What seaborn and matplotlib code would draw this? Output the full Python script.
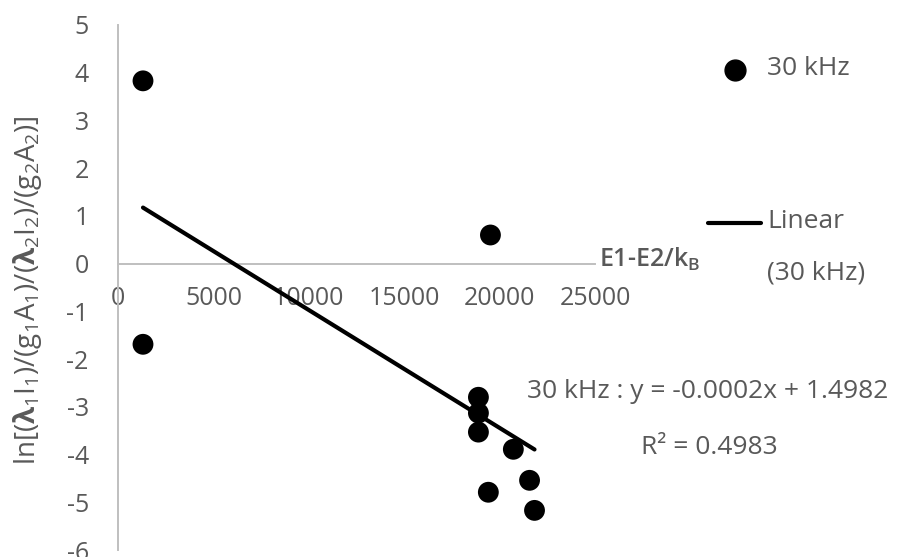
import numpy as np
import pandas as pd
import matplotlib
matplotlib.use("Agg")
import matplotlib.pyplot as plt
from matplotlib.lines import Line2D
import seaborn as sns

# Boltzmann-plot data for the 30 kHz discharge
energy = [1310, 1310, 19520, 18890, 18890, 18890, 20720, 21570, 19410, 21830]
log_ratio = [3.83, -1.69, 0.60, -2.80, -3.13, -3.53, -3.89, -4.54, -4.79, -5.17]
x_ticks = [0, 5000, 10000, 15000, 20000, 25000]
y_ticks = list(range(-6, 6))
series_name = "30 kHz"

# linear trendline parameters
fit_slope = -0.000247
fit_intercept = 1.4982
fit_r2 = 0.4983

TEXT = "#595959"
AXIS = "#bfbfbf"
FS_TICK = 18
FS_TEXT = 19

sns.set_theme(style="white")
plt.rcParams["font.family"] = ["Open Sans", "DejaVu Sans"]
plt.rcParams["mathtext.fontset"] = "custom"
plt.rcParams["mathtext.rm"] = "Open Sans"
plt.rcParams["mathtext.it"] = "Open Sans:italic"
plt.rcParams["mathtext.bf"] = "Open Sans:bold"
plt.rcParams["mathtext.sf"] = "Open Sans"

W, H = 908, 557
fig = plt.figure(figsize=(W / 100, H / 100), dpi=100)
ax = fig.add_axes([118 / W, 7 / H, 477 / W, 525 / H])

df = pd.DataFrame({"energy": energy, "log_ratio": log_ratio})
sns.scatterplot(data=df, x="energy", y="log_ratio", color="black", s=225,
                edgecolor="none", linewidth=0, ax=ax, clip_on=False,
                legend=False, zorder=3)

fx = np.array([min(energy), max(energy)], dtype=float)
fy = fit_intercept + fit_slope * fx
sns.lineplot(x=fx, y=fy, color="black", linewidth=3, ax=ax,
             solid_capstyle="round", zorder=4)

ax.set_xlim(0, 25000)
ax.set_ylim(-6, 5)
ax.set_xticks(x_ticks)
ax.set_yticks(y_ticks)
ax.set_xticklabels([str(t) for t in x_ticks])
ax.set_yticklabels([str(t) for t in y_ticks])

for side in ("top", "right"):
    ax.spines[side].set_visible(False)
ax.spines["left"].set_color(AXIS)
ax.spines["left"].set_linewidth(1.4)
ax.spines["bottom"].set_color(AXIS)
ax.spines["bottom"].set_linewidth(1.4)
ax.spines["bottom"].set_position(("data", 0))
ax.tick_params(axis="both", length=0, labelsize=FS_TICK, labelcolor=TEXT)
ax.tick_params(axis="x", pad=16)
ax.tick_params(axis="y", pad=21)
ax.set_xlabel("")

ax.set_ylabel(r"ln[($\mathbf{λ}_1$I$_1$)/(g$_1$A$_1$)/($\mathbf{λ}_2$I$_2$)/(g$_2$A$_2$)]",
              fontsize=20, color=TEXT)
ax.yaxis.set_label_coords(-0.155, 0.495)

# axis title at the right end of the horizontal axis
fig.text(599 / W, 1 - 259 / H, r"E1-E2/k$_\mathregular{B}$", fontsize=FS_TICK,
         color=TEXT, fontweight="semibold", va="center", ha="left")

# legend
fig.add_artist(Line2D([735 / W], [1 - 70 / H], marker="o", markersize=15,
                      color="black", linewidth=0, transform=fig.transFigure))
fig.text(767 / W, 1 - 68 / H, series_name, fontsize=FS_TEXT, color=TEXT, va="center")
fig.add_artist(Line2D([708 / W, 761 / W], [1 - 223 / H, 1 - 223 / H],
                      color="black", linewidth=3, solid_capstyle="round",
                      transform=fig.transFigure))
fig.text(767 / W, 1 - 221 / H, "Linear", fontsize=FS_TEXT, color=TEXT, va="center")
fig.text(767 / W, 1 - 273 / H, f"({series_name})", fontsize=FS_TEXT, color=TEXT, va="center")

# trendline equation
fig.text(708 / W, 1 - 392 / H,
         f"{series_name} : y = {fit_slope:.4f}x + {fit_intercept:.4f}",
         fontsize=FS_TEXT, color=TEXT, ha="center", va="center")
fig.text(709 / W, 1 - 448 / H, f"R² = {fit_r2:.4f}",
         fontsize=FS_TEXT, color=TEXT, ha="center", va="center")

fig.savefig("out.png", dpi=100)
